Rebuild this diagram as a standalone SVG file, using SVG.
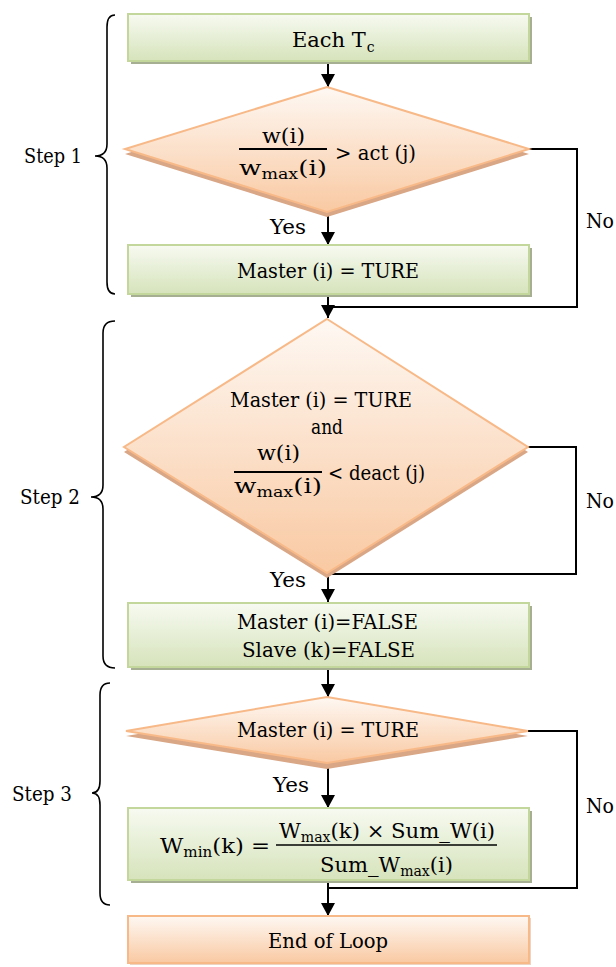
<svg xmlns="http://www.w3.org/2000/svg" width="616" height="967" viewBox="0 0 616 967" font-family="'DejaVu Serif', 'Liberation Serif', serif">
<defs>
<linearGradient id="gGreen" x1="0" y1="0" x2="0" y2="1">
<stop offset="0" stop-color="#f7faf1"/>
<stop offset="1" stop-color="#d6e3bb"/>
</linearGradient>
<linearGradient id="gOrange" x1="0" y1="0" x2="0" y2="1">
<stop offset="0" stop-color="#fef8f3"/>
<stop offset="1" stop-color="#f9c9a2"/>
</linearGradient>
<marker id="arr" markerUnits="userSpaceOnUse" markerWidth="15" markerHeight="14" refX="13" refY="7" orient="auto" viewBox="0 0 13 14">
<path d="M0,0 L13,7 L0,14 z" fill="#000"/>
</marker>
<style>
.t{font-size:21px;fill:#000}
.sub{font-size:14px}
.gbox{fill:url(#gGreen);stroke:#c3d69b;stroke-width:2}
.gsh{fill:#a6af92}
.obox{fill:url(#gOrange);stroke:#f8b988;stroke-width:2}
.osh{fill:#d9a686}
.conn{fill:none;stroke:#000;stroke-width:2}
.brace{fill:none;stroke:#000;stroke-width:1.6}
.fl{stroke:#000;stroke-width:2.2}
</style>
</defs>
<rect width="616" height="967" fill="#fff"/>

<g id="braces">
<path class="brace" d="M115,15 Q107,15 107,27 L107,144 Q107,156 95,156 Q107,156 107,168 L107,282 Q107,294 115,294"/>
<text class="t" x="24" y="163" textLength="58" lengthAdjust="spacingAndGlyphs">Step 1</text>
<path class="brace" d="M115,321 Q103,321 103,333 L103,485 Q103,497 91,497 Q103,497 103,509 L103,656 Q103,668 115,668"/>
<text class="t" x="20" y="504" textLength="60" lengthAdjust="spacingAndGlyphs">Step 2</text>
<path class="brace" d="M110,683 Q100,683 100,695 L100,781 Q100,793 92,793 Q100,793 100,805 L100,893 Q100,905 110,905"/>
<text class="t" x="12" y="801" textLength="60" lengthAdjust="spacingAndGlyphs">Step 3</text>
</g>

<g id="connectors">
<line class="conn" x1="328" y1="62" x2="328" y2="87" marker-end="url(#arr)"/>
<line class="conn" x1="328" y1="212" x2="328" y2="245" marker-end="url(#arr)"/>
<line class="conn" x1="328" y1="294" x2="328" y2="318" marker-end="url(#arr)"/>
<polyline class="conn" points="529,149 577,149 577,307 328,307"/>
<line class="conn" x1="328" y1="573" x2="328" y2="602" marker-end="url(#arr)"/>
<polyline class="conn" points="528,447 576,447 576,574 328,574"/>
<line class="conn" x1="328" y1="667" x2="328" y2="697" marker-end="url(#arr)"/>
<line class="conn" x1="328" y1="763" x2="328" y2="808" marker-end="url(#arr)"/>
<polyline class="conn" points="528,731 577,731 577,888 328,888"/>
<line class="conn" x1="328" y1="880" x2="328" y2="916" marker-end="url(#arr)"/>
<text class="t" x="270" y="234" textLength="36" lengthAdjust="spacingAndGlyphs">Yes</text>
<text class="t" x="586" y="228" textLength="28" lengthAdjust="spacingAndGlyphs">No</text>
<text class="t" x="270" y="587" textLength="36" lengthAdjust="spacingAndGlyphs">Yes</text>
<text class="t" x="586" y="508" textLength="28" lengthAdjust="spacingAndGlyphs">No</text>
<text class="t" x="273" y="792" textLength="36" lengthAdjust="spacingAndGlyphs">Yes</text>
<text class="t" x="586" y="813" textLength="28" lengthAdjust="spacingAndGlyphs">No</text>
</g>

<g id="start">
<rect class="gsh" x="131" y="17" width="401" height="47"/>
<rect class="gbox" x="128" y="14" width="401" height="47"/>
<text class="t" x="292" y="47">Each T<tspan class="sub" dx="1" dy="5">c</tspan></text>
</g>

<g id="decision1">
<polygon class="osh" points="327,92 529,154 327,217 125,154"/>
<polygon class="obox" points="327,87 529,149 327,212 125,149"/>
<text class="t" x="262" y="143" textLength="43" lengthAdjust="spacingAndGlyphs">w(i)</text>
<line class="fl" x1="239" y1="149" x2="327" y2="149"/>
<text class="t" x="239" y="175" textLength="88" lengthAdjust="spacingAndGlyphs">w<tspan class="sub" dy="4">max</tspan><tspan dy="-4">(i)</tspan></text>
<text class="t" x="335" y="160" textLength="81" lengthAdjust="spacingAndGlyphs">&gt; act (j)</text>
</g>

<g id="master-true">
<rect class="gsh" x="131" y="248" width="401" height="49"/>
<rect class="gbox" x="128" y="245" width="401" height="49"/>
<text class="t" x="237" y="278" textLength="182" lengthAdjust="spacingAndGlyphs">Master (i) = TURE</text>
</g>

<g id="decision2">
<polygon class="osh" points="327,324 528,452 327,578 124,452"/>
<polygon class="obox" points="327,319 528,447 327,573 124,447"/>
<text class="t" x="230" y="407" textLength="182" lengthAdjust="spacingAndGlyphs">Master (i) = TURE</text>
<text class="t" x="311" y="434" textLength="32" lengthAdjust="spacingAndGlyphs">and</text>
<text class="t" x="257" y="460" textLength="43" lengthAdjust="spacingAndGlyphs">w(i)</text>
<line class="fl" x1="234" y1="472" x2="322" y2="472"/>
<text class="t" x="234" y="493" textLength="88" lengthAdjust="spacingAndGlyphs">w<tspan class="sub" dy="4">max</tspan><tspan dy="-4">(i)</tspan></text>
<text class="t" x="328" y="480" textLength="97" lengthAdjust="spacingAndGlyphs">&lt; deact (j)</text>
</g>

<g id="reset">
<rect class="gsh" x="131" y="606" width="401" height="64"/>
<rect class="gbox" x="128" y="603" width="401" height="64"/>
<text class="t" x="237" y="629" textLength="181" lengthAdjust="spacingAndGlyphs">Master (i)=FALSE</text>
<text class="t" x="242" y="657" textLength="173" lengthAdjust="spacingAndGlyphs">Slave (k)=FALSE</text>
</g>

<g id="decision3">
<polygon class="osh" points="327,702 528,736 327,769 126,736"/>
<polygon class="obox" points="327,697 528,731 327,763 126,731"/>
<text class="t" x="237" y="737" textLength="182" lengthAdjust="spacingAndGlyphs">Master (i) = TURE</text>
</g>

<g id="wmin">
<rect class="gsh" x="131" y="811" width="401" height="72"/>
<rect class="gbox" x="128" y="808" width="401" height="72"/>
<text class="t" x="160" y="853" textLength="110" lengthAdjust="spacingAndGlyphs">W<tspan class="sub" dy="4">min</tspan><tspan dy="-4">(k) =</tspan></text>
<text class="t" x="279" y="838" textLength="216" lengthAdjust="spacingAndGlyphs">W<tspan class="sub" dy="4">max</tspan><tspan dy="-4">(k) × Sum_W(i)</tspan></text>
<line class="fl" x1="276" y1="845" x2="497" y2="845" style="stroke-width:1.5"/>
<text class="t" x="320" y="872" textLength="133" lengthAdjust="spacingAndGlyphs">Sum_W<tspan class="sub" dy="4">max</tspan><tspan dy="-4">(i)</tspan></text>
</g>

<g id="end">
<rect x="130" y="918" width="401" height="47" fill="#ecd3c2"/>
<rect class="obox" x="128" y="916" width="401" height="47"/>
<text class="t" x="268" y="948" textLength="120" lengthAdjust="spacingAndGlyphs">End of Loop</text>
</g>
</svg>
